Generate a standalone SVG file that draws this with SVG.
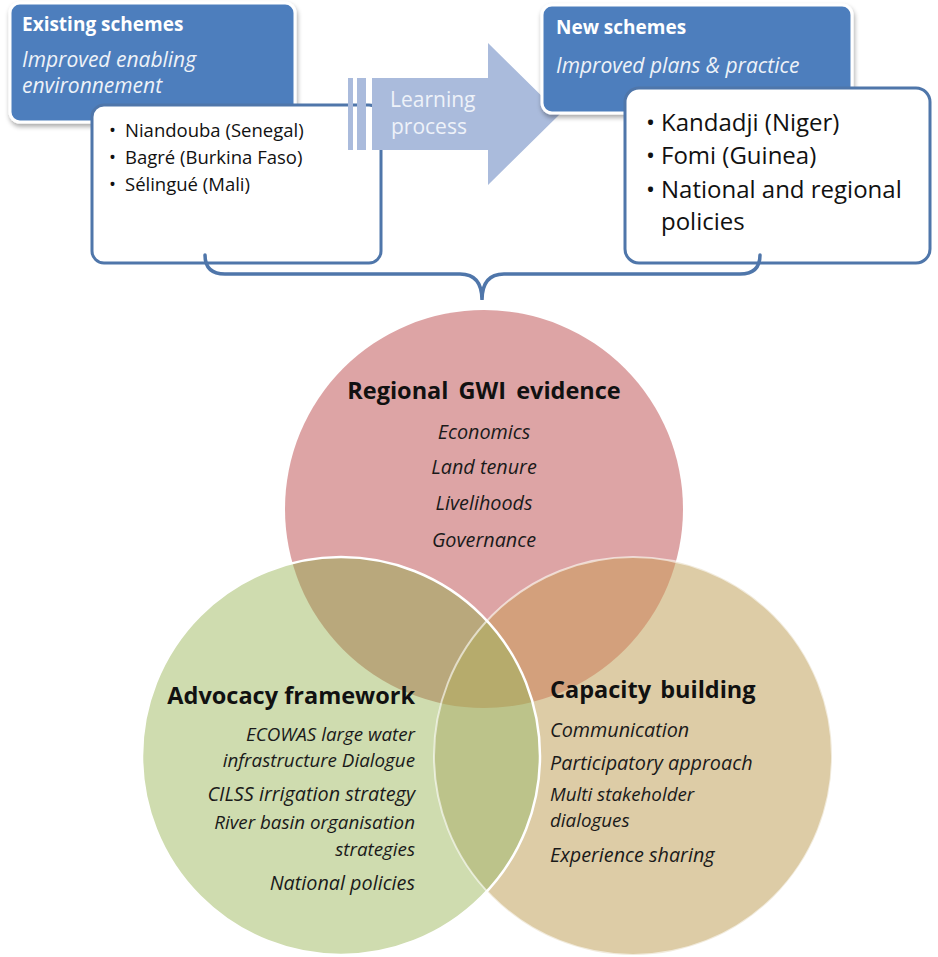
<svg xmlns="http://www.w3.org/2000/svg" width="938" height="957" viewBox="0 0 938 957">
  <style>
    text { font-family: "Open Sans", Lato, "Liberation Sans", sans-serif; }
    .hdr { fill: #ffffff; font-weight: bold; font-size: 19px; }
    .sub { fill: #eef2f8; font-style: italic; font-size: 21px; }
    .li { fill: #111111; font-size: 18.5px; }
    .lib { fill: #111111; font-size: 24px; }
    .ttl { fill: #111111; font-weight: bold; font-size: 23.5px; }
    .it { fill: #1a1a1a; font-style: italic; font-size: 19.8px; }
    .it2 { fill: #1a1a1a; font-style: italic; font-size: 18.8px; }
    .blue { fill: #4d7ebd; stroke: #ffffff; stroke-width: 3; }
    .card { fill: #ffffff; stroke: #4f76aa; stroke-width: 3; }
  </style>
  <defs>
    <filter id="shadow" x="-10%" y="-10%" width="125%" height="130%">
      <feGaussianBlur in="SourceAlpha" stdDeviation="2.5"/>
      <feOffset dx="1" dy="3" result="b"/>
      <feComponentTransfer><feFuncA type="linear" slope="0.35"/></feComponentTransfer>
      <feMerge><feMergeNode/><feMergeNode in="SourceGraphic"/></feMerge>
    </filter>
    <clipPath id="cRed"><circle cx="484" cy="509" r="199"/></clipPath>
    <clipPath id="cGreen"><circle cx="341" cy="756" r="199"/></clipPath>
    <clipPath id="cTan"><circle cx="633" cy="756" r="199"/></clipPath>
  </defs>

  <!-- Existing schemes header -->
  <g id="existing-schemes">
    <rect class="blue" x="10" y="3" width="285" height="119" rx="10" filter="url(#shadow)"/>
    <text class="hdr" x="22" y="31">Existing schemes</text>
    <text class="sub" x="22" y="67">Improved enabling</text>
    <text class="sub" x="22" y="93">environnement</text>
  </g>

  <!-- Existing schemes list -->
  <g id="existing-list">
    <rect class="card" x="92" y="105" width="289" height="158" rx="12"/>
    <text class="li" x="109" y="137">•</text>
    <text class="li" x="125" y="137">Niandouba (Senegal)</text>
    <text class="li" x="109" y="164">•</text>
    <text class="li" x="125" y="164">Bagré (Burkina Faso)</text>
    <text class="li" x="109" y="191">•</text>
    <text class="li" x="125" y="191">Sélingué (Mali)</text>
  </g>

  <!-- Learning process arrow -->
  <g id="learning-process">
    <rect x="348" y="78" width="5" height="72" fill="#aabbdc"/>
    <rect x="357" y="78" width="9" height="72" fill="#aabbdc"/>
    <path d="M372 78 H488 V43 L560 114 L488 185 V150 H372 Z" fill="#aabbdc"/>
    <text x="390" y="107" fill="#eef2f9" font-size="21">Learning</text>
    <text x="391" y="134" fill="#eef2f9" font-size="21">process</text>
  </g>

  <!-- New schemes header -->
  <g id="new-schemes">
    <rect class="blue" x="542" y="5" width="310" height="108" rx="10" filter="url(#shadow)"/>
    <text class="hdr" x="556" y="34">New schemes</text>
    <text class="sub" x="556" y="73" font-size="20.5">Improved plans &amp; practice</text>
  </g>

  <!-- New schemes list -->
  <g id="new-list">
    <rect class="card" x="625" y="88" width="305" height="175" rx="14"/>
    <text class="lib" x="646" y="131">•</text>
    <text class="lib" x="661" y="131">Kandadji (Niger)</text>
    <text class="lib" x="646" y="164">•</text>
    <text class="lib" x="661" y="164">Fomi (Guinea)</text>
    <text class="lib" x="646" y="198">•</text>
    <text class="lib" x="661" y="198">National and regional</text>
    <text class="lib" x="661" y="230">policies</text>
  </g>

  <!-- Brace gathering both schemes -->
  <g id="connectors">
    <path d="M205 255 Q205 274 225 274 H460 Q482 274 482 300 Q482 274 504 274 H740 Q760 274 760 255" fill="none" stroke="#4f76aa" stroke-width="3.5" stroke-linecap="round"/>
  </g>

  <!-- Venn circles -->
  <g id="venn">
    <circle cx="484" cy="509" r="199" fill="#dda4a5"/>
    <circle cx="633" cy="756" r="199" fill="#ddcca6"/>
    <circle cx="341" cy="756" r="199" fill="#cfdcaf"/>
    <!-- pairwise overlaps -->
    <g clip-path="url(#cRed)">
      <circle cx="341" cy="756" r="199" fill="#b9a87c"/>
      <circle cx="633" cy="756" r="199" fill="#d3a07c"/>
    </g>
    <g clip-path="url(#cGreen)">
      <circle cx="633" cy="756" r="199" fill="#bcc38a"/>
    </g>
    <g clip-path="url(#cGreen)">
      <g clip-path="url(#cTan)">
        <circle cx="484" cy="509" r="199" fill="#b6ab6c"/>
      </g>
    </g>
    <!-- white rims -->
    <circle cx="633" cy="756" r="199" fill="none" stroke="#ffffff" stroke-width="2" stroke-opacity="0.6"/>
    <circle cx="341" cy="756" r="199" fill="none" stroke="#ffffff" stroke-width="2.5"/>
  </g>

  <g id="regional-gwi-evidence" text-anchor="middle">
    <text class="ttl" x="484" y="399" word-spacing="4">Regional GWI evidence</text>
    <text class="it" x="484" y="439" font-size="21.5">Economics</text>
    <text class="it" x="484" y="474" font-size="21.5">Land tenure</text>
    <text class="it" x="484" y="510" font-size="21.5">Livelihoods</text>
    <text class="it" x="484" y="547" font-size="21.5">Governance</text>
  </g>

  <g id="advocacy-framework" text-anchor="end">
    <text class="ttl" x="415" y="704">Advocacy framework</text>
    <text class="it2" x="415" y="741">ECOWAS large water</text>
    <text class="it2" x="415" y="767">infrastructure  Dialogue</text>
    <text class="it" x="415" y="801">CILSS irrigation strategy</text>
    <text class="it2" x="415" y="829">River basin organisation</text>
    <text class="it2" x="415" y="856">strategies</text>
    <text class="it" x="415" y="890">National policies</text>
  </g>

  <g id="capacity-building">
    <text class="ttl" x="550" y="698" word-spacing="3">Capacity building</text>
    <text class="it" x="550" y="737">Communication</text>
    <text class="it" x="550" y="770">Participatory approach</text>
    <text class="it2" x="550" y="801">Multi stakeholder</text>
    <text class="it2" x="550" y="827">dialogues</text>
    <text class="it" x="550" y="862">Experience sharing</text>
  </g>
</svg>
